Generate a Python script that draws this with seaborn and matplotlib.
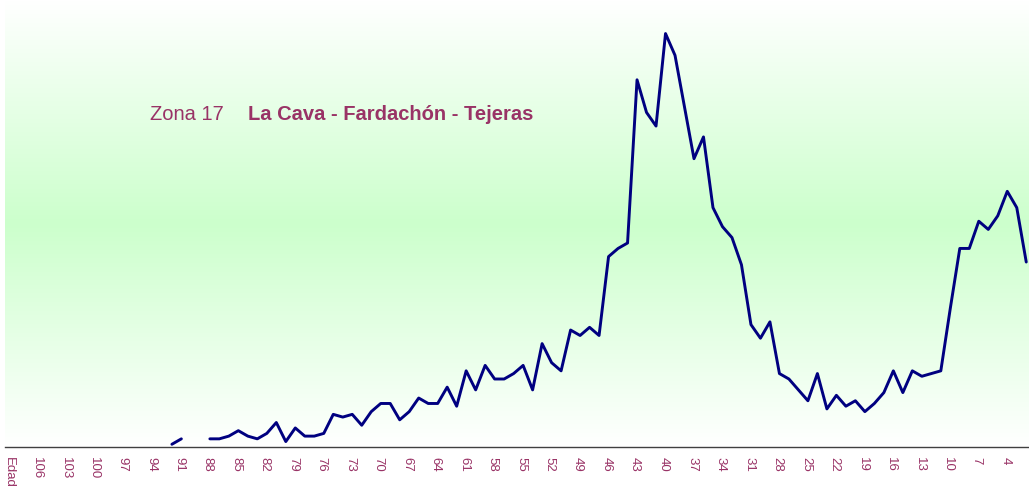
import numpy as np
import pandas as pd
import matplotlib
matplotlib.use("Agg")
import matplotlib.pyplot as plt
import seaborn as sns
from matplotlib.transforms import ScaledTranslation
from matplotlib.colors import LinearSegmentedColormap

# ---------------- data ----------------
nan = np.nan
ages = list(range(108, 1, -1))  # 108 .. 2
counts = [nan] * 16 + [          # 108..93 no data
    1, 3,                        # 92, 91
    nan, nan,                    # 90, 89
    3, 3, 4, 6, 4, 3, 5, 9, 2, 7,            # 88..79
    4, 4, 5, 12, 11, 12, 8, 13, 16, 16,      # 78..69
    10, 13, 18, 16, 16, 22, 15, 28, 21, 30,  # 68..59
    25, 25, 27, 30, 21, 38, 31, 28, 43, 41,  # 58..49
    44, 41, 70, 73, 75, 135, 123, 118, 152, 144,  # 48..39
    125, 106, 114, 88, 81, 77, 67, 45, 40, 46,    # 38..29
    27, 25, 21, 17, 27, 14, 19, 15, 17, 13,       # 28..19
    16, 20, 28, 20, 28, 26, 27, 28, 51, 73,       # 18..9
    73, 83, 80, 85, 94, 88, 68,                   # 8..2
]
tick_labels = ["Edad", "106", "103", "100", "97", "94", "91", "88", "85", "82",
               "79", "76", "73", "70", "67", "64", "61", "58", "55", "52",
               "49", "46", "43", "40", "37", "34", "31", "28", "25", "22",
               "19", "16", "13", "10", "7", "4"]
title_zone = "Zona 17"
title_name = "La Cava - Fardachón - Tejeras"

# ---------------- style ----------------
sns.set_style("white")
plt.rcParams["font.family"] = ["Liberation Sans", "DejaVu Sans"]

W, H, DPI = 1029, 491, 100
fig = plt.figure(figsize=(W / DPI, H / DPI), dpi=DPI)
fig.patch.set_facecolor("white")

ax_left_px, ax_right_px = 5, 1029
ax_top_px, ax_bottom_px = 0, 447
ax = fig.add_axes([ax_left_px / W, (H - ax_bottom_px) / H,
                   (ax_right_px - ax_left_px) / W, (ax_bottom_px - ax_top_px) / H])

# gradient background: white - light green - white
cmap = LinearSegmentedColormap.from_list(
    "bg", [(0.0, "#ffffff"), (0.5, "#ccffcc"), (1.0, "#ffffff")])
grad = np.linspace(0, 1, 256).reshape(-1, 1)
ax.imshow(grad, extent=[0, 1, 0, 1], transform=ax.transAxes, aspect="auto",
          cmap=cmap, zorder=0, origin="upper")

df = pd.DataFrame({"age": ages, "count": counts})
df["pos"] = 109 - df["age"]
df["seg"] = df["count"].isna().cumsum()
for _, seg in df.dropna().groupby("seg"):
    sns.lineplot(data=seg, x="pos", y="count", ax=ax, color="#000080",
                 linewidth=2.1, estimator=None, sort=False, zorder=3)

# axis styling
for s in ["top", "right", "left"]:
    ax.spines[s].set_visible(False)
ax.spines["bottom"].set_color("#404040")
ax.spines["bottom"].set_linewidth(1.0)
ax.set_yticks([])
ax.set_xlabel("")
ax.set_ylabel("")

label_pos = [3 * i for i in range(len(tick_labels))]
ax.set_xticks(label_pos)
ax.set_xticklabels(tick_labels, rotation=270, fontsize=9.5, color="#993366")
ax.tick_params(axis="x", which="major", length=0, pad=7.5)
ax.set_xticks([p - 0.5 for p in range(0, 110)], minor=True)
ax.tick_params(axis="x", which="minor", length=3.5, width=1.0, color="#404040",
               direction="out")
off = ScaledTranslation(-2 / DPI, 0, fig.dpi_scale_trans)
for lab in ax.get_xticklabels():
    lab.set_transform(lab.get_transform() + off)

# limits (set after ticks so they are not expanded)
px_per_unit = 2.72
ax.set_xlim((ax_left_px - 10.5) / 9.493, (ax_right_px - 10.5) / 9.493)
ax.set_ylim(0, (ax_bottom_px - ax_top_px) / px_per_unit)

# title texts
ty = (ax_bottom_px - 114) / (ax_bottom_px - ax_top_px)
ax.text((150 - ax_left_px) / (ax_right_px - ax_left_px), ty, title_zone,
        transform=ax.transAxes, fontsize=14.5, color="#993366",
        ha="left", va="center", zorder=4)
ax.text((248 - ax_left_px) / (ax_right_px - ax_left_px), ty, title_name,
        transform=ax.transAxes, fontsize=14.5, color="#993366",
        fontweight="bold", ha="left", va="center", zorder=4)

fig.savefig("out.png", dpi=DPI)
